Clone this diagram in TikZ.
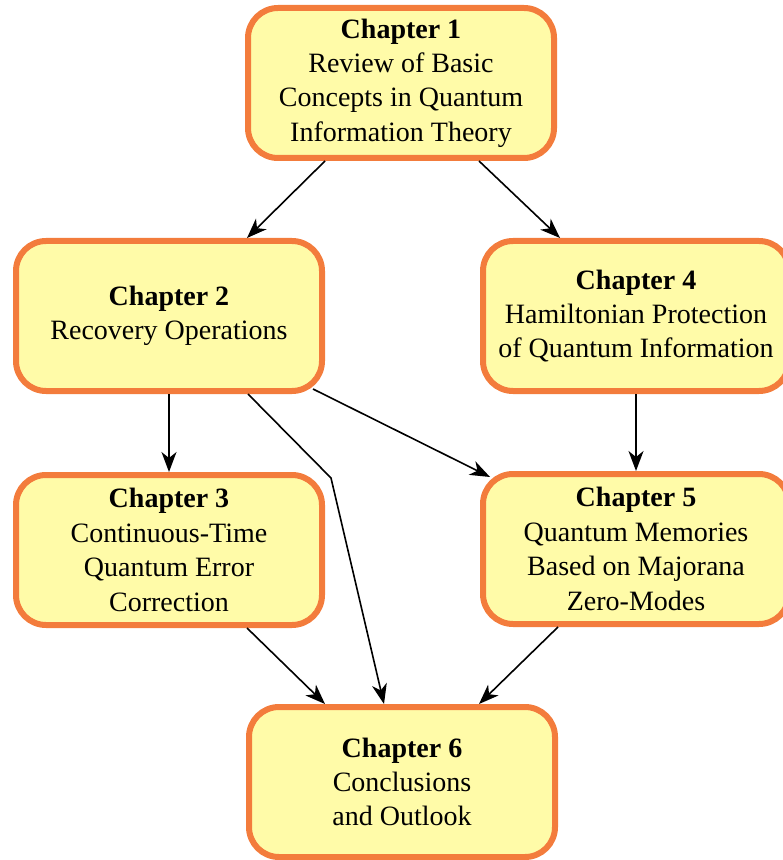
\documentclass[tikz,border=0pt]{standalone}
\usepackage{fontspec}
\setmainfont{Liberation Serif}
\usetikzlibrary{arrows.meta, positioning, calc}
\definecolor{chfill}{RGB}{255,251,168}
\definecolor{chedge}{RGB}{243,124,60}

\begin{document}
\begin{tikzpicture}[
    x=0.5pt, y=-0.5pt,
    box/.style={rectangle, rounded corners=15pt, draw=chedge, fill=chfill, line width=3pt,
        minimum width=153pt, minimum height=75pt, align=center,
        font=\fontsize{14}{17.2}\selectfont},
    arrow/.style={-{Stealth[length=10pt, width=7.5pt, inset=3pt]}, line width=0.8pt}
]
\useasboundingbox (0,0) rectangle (782,860);
\node[box] (ch1) at (401,83) {\textbf{Chapter 1}\\Review of Basic\\Concepts in Quantum\\Information Theory};
\node[box] (ch2) at (169,316) {\textbf{Chapter 2}\\Recovery Operations};
\node[box] (ch4) at (636,316) {\textbf{Chapter 4}\\Hamiltonian Protection\\of Quantum Information};
\node[box] (ch3) at (169,550) {\textbf{Chapter 3}\\Continuous-Time\\Quantum Error\\Correction};
\node[box] (ch5) at (636,549) {\textbf{Chapter 5}\\Quantum Memories\\Based on Majorana\\Zero-Modes};
\node[box] (ch6) at (402,782) {\textbf{Chapter 6}\\Conclusions\\and Outlook};
\coordinate (kink) at (331,478);
% connectors
\draw[arrow] ([shift={(-76,0)}]ch1.south) -- ([shift={(78,0)}]ch2.north);
\draw[arrow] ([shift={(78,0)}]ch1.south) -- ([shift={(-76,0)}]ch4.north);
\draw[arrow] (ch2.south) -- (ch3.north);
\draw[arrow] ([shift={(79,0)}]ch2.south) -- (kink) -- ([shift={(-18,0)}]ch6.north);
\draw[arrow] ([shift={(-12,-5)}]ch2.south east) -- ([shift={(10,6)}]ch5.north west);
\draw[arrow] (ch4.south) -- (ch5.north);
\draw[arrow] ([shift={(78,0)}]ch3.south) -- ([shift={(-77,0)}]ch6.north);
\draw[arrow] ([shift={(-78,0)}]ch5.south) -- ([shift={(77,0)}]ch6.north);
\end{tikzpicture}
\end{document}
